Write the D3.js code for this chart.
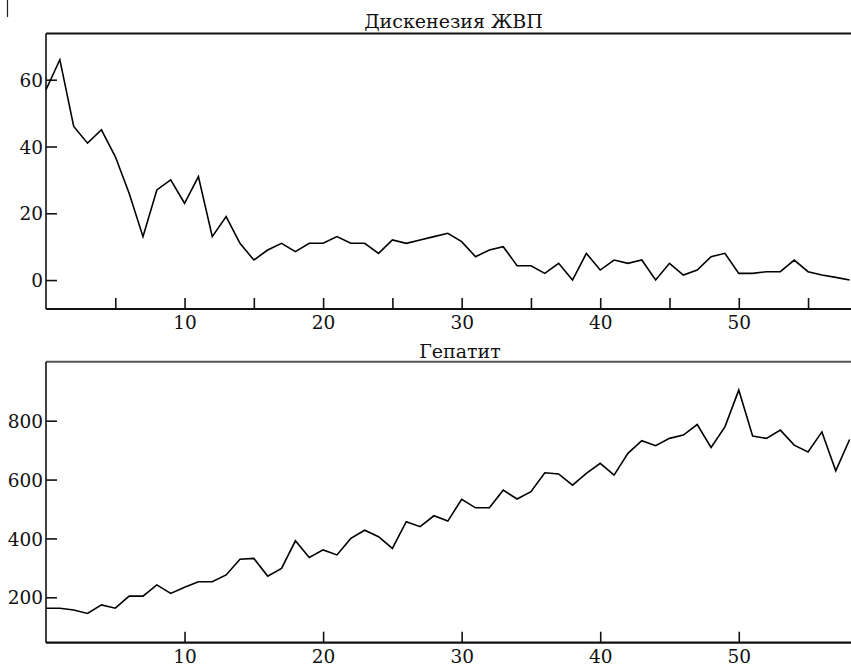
<!DOCTYPE html>
<html>
<head>
<meta charset="utf-8">
<script src="https://cdn.jsdelivr.net/npm/d3@7/dist/d3.min.js"></script>
<style>
  html, body { margin: 0; padding: 0; background: #fff; }
  svg { display: block; }
</style>
</head>
<body>
<svg id="chart" width="851" height="669" font-family="DejaVu Serif"></svg>
<script>
// Monthly case counts, index 0..58
const dyskTitle = "Дискенезия ЖВП";
const dyskValues = [57, 66, 46, 41, 45, 37, 26, 13, 27, 30, 23, 31, 13, 19, 11, 6, 9, 11, 8.5, 11,
  11, 13, 11, 11, 8, 12, 11, 12, 13, 14, 11.5, 7, 9, 10, 4.3, 4.3, 2, 5, 0, 8,
  3, 6, 5, 6, 0, 5, 1.5, 3, 7, 8, 2, 2, 2.5, 2.5, 6, 2.5, 1.5, 0.8, 0];
const dyskYTicks = [0, 20, 40, 60];
const dyskXTicks = [5, 10, 15, 20, 25, 30, 35, 40, 45, 50, 55];

const hepTitle = "Гепатит";
const hepValues = [163, 163, 157, 145, 174, 163, 204, 204, 242, 213, 234, 253, 253, 276, 329, 332, 272, 298, 392, 335,
  361, 344, 400, 428, 406, 366, 457, 440, 477, 459, 533, 504, 504, 564, 534, 559, 623, 619, 581, 621,
  655, 615, 689, 732, 715, 740, 751, 787, 709, 779, 904, 748, 740, 768, 717, 694, 762, 630, 736];
const hepYTicks = [200, 400, 600, 800];
const hepXTicks = [10, 20, 30, 40, 50];

const svg = d3.select("#chart");
const TICK_FONT = 18.5;
const TITLE_FONT = 19;
const FAMILY = "DejaVu Serif";

// stray mark in the top-left corner
svg.append("line").attr("x1", 7.5).attr("x2", 7.5).attr("y1", 0).attr("y2", 17)
  .attr("stroke", "#222").attr("stroke-width", 1.2);

function panel(cfg) {
  const x = d3.scaleLinear().domain([0, 58.1]).range([cfg.left, cfg.right]);
  const y = d3.scaleLinear().domain(cfg.yDomain).range([cfg.bottom, cfg.top]);
  const g = svg.append("g");

  // x axis: ticks pointing up into the plot
  const xa = d3.axisBottom(x).tickValues(cfg.xTicks).tickSizeInner(-11).tickSizeOuter(0)
    .tickFormat(d => d % 10 === 0 ? d : "");
  const gx = g.append("g").attr("transform", `translate(0,${cfg.bottom})`).call(xa);
  gx.attr("font-family", FAMILY);
  gx.select(".domain").remove();
  gx.selectAll(".tick line").attr("stroke", "#111").attr("stroke-width", 1.6);
  gx.selectAll(".tick text").attr("font-size", TICK_FONT).attr("fill", "#111")
    .attr("font-family", FAMILY).attr("dy", 0).attr("y", 20);

  // y axis: ticks pointing right into the plot
  const ya = d3.axisLeft(y).tickValues(cfg.yTicks).tickSizeInner(-11).tickSizeOuter(0).tickPadding(3);
  const gy = g.append("g").attr("transform", `translate(${cfg.left},0)`).call(ya);
  gy.attr("font-family", FAMILY);
  gy.select(".domain").remove();
  gy.selectAll(".tick line").attr("stroke", "#111").attr("stroke-width", 1.6);
  gy.selectAll(".tick text").attr("font-size", TICK_FONT).attr("fill", "#111")
    .attr("font-family", FAMILY).attr("dy", "0.36em");

  // frame: top, bottom and left edges
  g.append("line").attr("x1", cfg.left).attr("x2", cfg.right).attr("y1", cfg.top).attr("y2", cfg.top)
    .attr("stroke", cfg.topColor).attr("stroke-width", 2);
  g.append("line").attr("x1", cfg.left).attr("x2", cfg.right).attr("y1", cfg.bottom).attr("y2", cfg.bottom)
    .attr("stroke", "#111").attr("stroke-width", 2.2);
  g.append("line").attr("x1", cfg.left).attr("x2", cfg.left).attr("y1", cfg.top).attr("y2", cfg.bottom)
    .attr("stroke", "#111").attr("stroke-width", 1.6);

  // series line
  const line = d3.line().x((d, i) => x(i)).y(d => y(d));
  g.append("path").datum(cfg.values).attr("d", line)
    .attr("fill", "none").attr("stroke", "#000").attr("stroke-width", 1.6)
    .attr("stroke-linejoin", "miter");

  // title
  g.append("text").attr("x", cfg.titleX).attr("y", cfg.titleY)
    .attr("text-anchor", "middle").attr("font-size", TITLE_FONT).attr("font-family", FAMILY)
    .attr("fill", "#111").text(cfg.title);
}

panel({
  title: dyskTitle, values: dyskValues, yTicks: dyskYTicks, xTicks: dyskXTicks,
  yDomain: [-8.67, 73.84], left: 46, right: 851, top: 33.5, bottom: 309,
  titleX: 453.5, titleY: 28, topColor: "#111"
});

panel({
  title: hepTitle, values: hepValues, yTicks: hepYTicks, xTicks: hepXTicks,
  yDomain: [45.7, 1000.5], left: 46, right: 851, top: 361.7, bottom: 642.7,
  titleX: 460, titleY: 358, topColor: "#555"
});
</script>
</body>
</html>
